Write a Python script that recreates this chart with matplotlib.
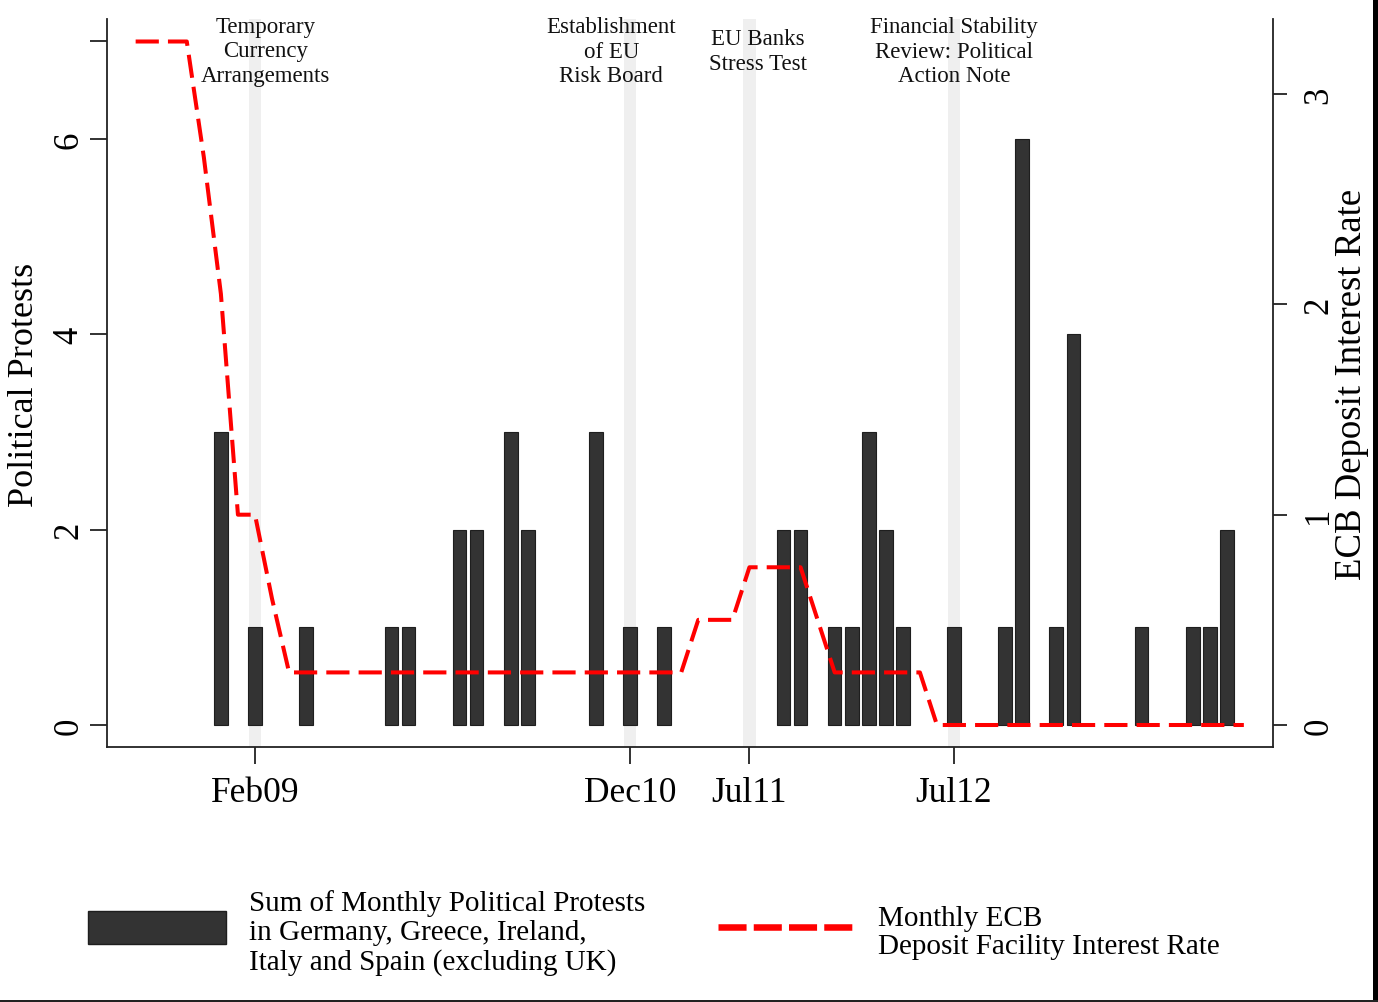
import matplotlib
matplotlib.use('Agg')
import matplotlib.pyplot as plt
import matplotlib.transforms as mtransforms
from matplotlib.patches import Rectangle
from matplotlib.lines import Line2D
import pandas as pd

plt.rcParams['font.family'] = ['Liberation Serif', 'DejaVu Serif']

# ---------------- data ----------------
bar_months = ['2008-12', '2009-02', '2009-05', '2009-10', '2009-11', '2010-02',
              '2010-03', '2010-05', '2010-06', '2010-10', '2010-12', '2011-02',
              '2011-09', '2011-10', '2011-12', '2012-01', '2012-02', '2012-03',
              '2012-04', '2012-07', '2012-10', '2012-11', '2013-01', '2013-02',
              '2013-06', '2013-09', '2013-10', '2013-11']
protests = [3, 1, 1, 1, 1, 2,
            2, 3, 2, 3, 1, 1,
            2, 2, 1, 1, 3, 2,
            1, 1, 1, 6, 1, 4,
            1, 1, 1, 2]

rate_months = [str(p) for p in pd.period_range('2008-07', '2013-12', freq='M')]
ecb_rate = [3.25, 3.25, 3.25, 3.25, 2.70, 2.05,            # Jul08-Dec08
            1.00, 1.00, 0.60, 0.25, 0.25, 0.25,            # Jan09-Jun09
            0.25, 0.25, 0.25, 0.25, 0.25, 0.25,            # Jul09-Dec09
            0.25, 0.25, 0.25, 0.25, 0.25, 0.25,            # Jan10-Jun10
            0.25, 0.25, 0.25, 0.25, 0.25, 0.25,            # Jul10-Dec10
            0.25, 0.25, 0.25, 0.50, 0.50, 0.50,            # Jan11-Jun11
            0.75, 0.75, 0.75, 0.75, 0.50, 0.25,            # Jul11-Dec11
            0.25, 0.25, 0.25, 0.25, 0.25, 0.00,            # Jan12-Jun12
            0.00, 0.00, 0.00, 0.00, 0.00, 0.00,            # Jul12-Dec12
            0.00, 0.00, 0.00, 0.00, 0.00, 0.00,            # Jan13-Jun13
            0.00, 0.00, 0.00, 0.00, 0.00, 0.00]            # Jul13-Dec13

event_months = ['2009-02', '2010-12', '2011-07', '2012-07']
event_ticklabels = ['Feb09', 'Dec10', 'Jul11', 'Jul12']
event_notes = ['Temporary\nCurrency\nArrangements',
               'Establishment\nof EU\nRisk Board',
               'EU Banks\nStress Test',
               'Financial Stability\nReview: Political\nAction Note']

legend_bar_text = 'Sum of Monthly Political Protests\nin Germany, Greece, Ireland,\nItaly and Spain (excluding UK)'
legend_line_text = 'Monthly ECB\nDeposit Facility Interest Rate'


def midx(s):
    y, m = s.split('-')
    return (int(y) - 2008) * 12 + (int(m) - 1)


# ---------------- figure ----------------
W, H = 1378, 1003
fig = plt.figure(figsize=(W / 100, H / 100), dpi=100)
L, R, T, B = 107, 1273, 20, 748
ax = fig.add_axes([L / W, 1 - B / H, (R - L) / W, (B - T) / H])
ax2 = ax.twinx()

ax.set_xlim(4.32, 72.71)
ax.set_ylim(-0.225, 7.23)
ax2.set_ylim(-0.1046, 3.357)

# event bands
for m in event_months:
    ax.axvspan(midx(m) - 0.37, midx(m) + 0.37, color='#efefef', lw=0, zorder=0)

# bars
ax.bar([midx(m) for m in bar_months], protests, width=0.8,
       color='#333333', edgecolor='#1e1e1e', linewidth=0.8, zorder=2)

# ECB rate line
ax2.plot([midx(m) for m in rate_months], ecb_rate, color='#ff0000', lw=2.9,
         linestyle=(0, (5.76, 2.26)), zorder=3)

# annotations
trans = mtransforms.blended_transform_factory(ax.transData, ax.transAxes)
note_dx = [0.6, -1.1, 0.5, 0.0]
for m, txt, dx in zip(event_months, event_notes, note_dx):
    ax.text(midx(m) + dx, (B - 52) / (B - T), txt, transform=trans,
            ha='center', va='center', fontsize=16.5, linespacing=1.22,
            color='#111111', zorder=4)

# spines
for s in ['top', 'right']:
    ax.spines[s].set_visible(False)
for s in ['top', 'left', 'bottom']:
    ax2.spines[s].set_visible(False)
for sp in [ax.spines['left'], ax.spines['bottom'], ax2.spines['right']]:
    sp.set_linewidth(1.3)
    sp.set_color('#222222')

# ticks
ax.set_xticks([midx(m) for m in event_months])
ax.set_xticklabels(event_ticklabels)
ax.tick_params(axis='x', length=12, width=1.3, color='#222222', pad=9,
               labelsize=25.5)
ax.set_yticks([0, 2, 4, 6, 7])
ax.set_yticklabels(['0', '2', '4', '6', ''])
ax.tick_params(axis='y', length=12, width=1.3, color='#222222', pad=3.5,
               labelsize=25)
for lab in ax.get_yticklabels():
    lab.set_rotation(90)
    lab.set_va('center')

ax2.set_yticks([0, 1, 2, 3])
ax2.set_yticklabels(['0', '1', '2', '3'])
ax2.tick_params(axis='y', length=10, width=1.3, color='#222222', pad=11,
                labelsize=25)
for lab in ax2.get_yticklabels():
    lab.set_rotation(90)
    lab.set_va('center')

# axis titles
fig.text(25 / W, 1 - 385 / H, 'Political Protests', rotation=90,
         ha='center', va='center', fontsize=26)
fig.text(1352 / W, 1 - 384 / H, 'ECB Deposit Interest Rate', rotation=90,
         ha='center', va='center', fontsize=26.5)

# legend (manual)
fig.add_artist(Rectangle((88 / W, 1 - 945 / H), (226 - 88) / W, (945 - 912) / H,
                         transform=fig.transFigure, facecolor='#333333',
                         edgecolor='#1e1e1e', lw=1))
fig.text(249 / W, 1 - 933 / H, legend_bar_text, ha='left', va='center',
         fontsize=21, linespacing=1.13)
fig.add_artist(Line2D([718 / W, 858 / W], [1 - 928 / H, 1 - 928 / H],
                      transform=fig.transFigure, color='#ff0000', lw=4.7,
                      linestyle=(0, (4.3, 1.1))))
fig.text(878 / W, 1 - 933 / H, legend_line_text, ha='left', va='center',
         fontsize=21, linespacing=1.13)

# figure border artifacts
fig.add_artist(Rectangle((1373 / W, 0), 5 / W, 1, transform=fig.transFigure,
                         facecolor='black', lw=0))
fig.add_artist(Rectangle((0, 0), 1, 2 / H, transform=fig.transFigure,
                         facecolor='#222222', lw=0))

fig.savefig('out.png', dpi=100)
